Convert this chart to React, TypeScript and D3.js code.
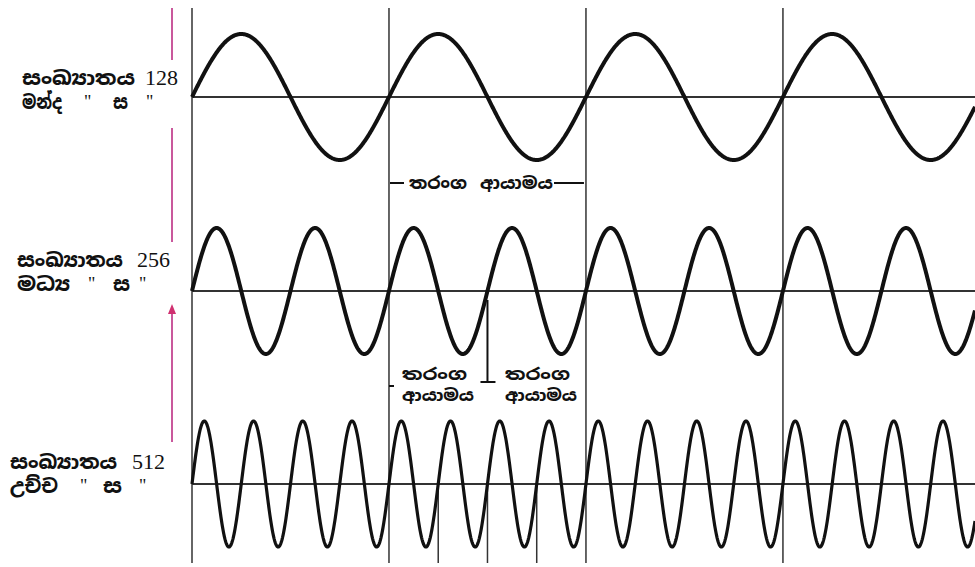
import React from "react";
import * as d3 from "d3";

// ---- data ----
const frequencies = [128, 256, 512];
const freqWord = "සංඛ්‍යාතය";
const pitchNames = ["මන්ද", "මධ්‍ය", "උච්ච"];
const swaraName = "ස";
const wavelengthWord1 = "තරංග";
const wavelengthWord2 = "ආයාමය";
const periodsShown = 3.975; // periods of the lowest frequency visible

// ---- layout ----
const W = 975;
const H = 567;
const x0 = 192;
const x1 = 975;
const panelZero = [97, 291, 484];
const amp = 63;
const lineTop = 8;
const lineBottom = 563;
const sinhalaFont = "'Noto Sans Sinhala', 'Noto Serif Sinhala', 'Noto Sans', sans-serif";
const numFont = "'Liberation Serif', 'DejaVu Serif', serif";

type Block = {
  x: number; y1: number; y2: number; wordW: number; numX: number;
  pitchW: number; q1: number; sx: number; sw: number; q2: number;
};

const labelBlocks: Block[] = [
  { x: 22, y1: 85, y2: 109, wordW: 113, numX: 145, pitchW: 40, q1: 84, sx: 113, sw: 15, q2: 146 },
  { x: 17, y1: 267, y2: 291, wordW: 106, numX: 137, pitchW: 53, q1: 88, sx: 113, sw: 17, q2: 139 },
  { x: 10, y1: 469, y2: 493, wordW: 107, numX: 132, pitchW: 48, q1: 80, sx: 103, sw: 19, q2: 139 },
];

export default function App() {
  const baseF = frequencies[0];
  const tMax = periodsShown / baseF;
  const x = d3.scaleLinear().domain([0, tMax]).range([x0, x1]);
  const samples = d3.range(0, 1601).map((i) => (i / 1600) * tMax);

  const waves = frequencies.map((f, i) => {
    const y = d3.scaleLinear().domain([-1, 1]).range([panelZero[i] + amp, panelZero[i] - amp]);
    const line = d3
      .line<number>()
      .x((t) => x(t))
      .y((t) => y(Math.sin(2 * Math.PI * f * t)));
    return line(samples) || "";
  });

  const majorT = d3.range(1, Math.floor(periodsShown) + 1).map((k) => k / baseF);
  const hiF = frequencies[2];
  const minorT = [5, 6, 7].map((k) => k / hiF);
  const midF = frequencies[1];
  const bracketT = 3 / midF;

  const axisColor = "#333";
  const pink = "#c9589c";

  const bold = { fontFamily: sinhalaFont, fontWeight: 800 as const };

  return (
    <svg
      width={W}
      height={H}
      style={{ position: "absolute", left: 0, top: 0, background: "#fff" }}
    >
      <rect x={0} y={0} width={W} height={H} fill="#fff" />
      {/* pink side markers */}
      <g stroke={pink} strokeWidth={2}>
        <line x1={172} x2={172} y1={lineTop} y2={60} />
        <line x1={172} x2={172} y1={128} y2={242} />
        <line x1={172} x2={172} y1={312} y2={442} />
      </g>
      <path d="M168,314 L172,304 L176,314 Z" fill="#d03070" />

      {/* vertical lines */}
      <g stroke={axisColor} strokeWidth={1.5}>
        <line x1={x0} x2={x0} y1={lineTop} y2={lineBottom} />
        {majorT.map((t) => (
          <line key={t} x1={x(t)} x2={x(t)} y1={lineTop} y2={lineBottom} />
        ))}
        {minorT.map((t) => (
          <line key={t} x1={x(t)} x2={x(t)} y1={panelZero[2]} y2={lineBottom} />
        ))}
      </g>

      {/* horizontal zero lines */}
      <g stroke={axisColor} strokeWidth={2}>
        {panelZero.map((yz) => (
          <line key={yz} x1={x0} x2={x1} y1={yz} y2={yz} />
        ))}
      </g>

      {/* waves */}
      {waves.map((d, i) => (
        <path
          key={i}
          d={d}
          fill="none"
          stroke="#111"
          strokeWidth={i === 2 ? 3.2 : 4}
          strokeLinejoin="round"
        />
      ))}

      {/* wavelength label (top) */}
      <g stroke="#111" strokeWidth={2}>
        <line x1={x(majorT[0]) + 1} x2={404} y1={183} y2={183} />
        <line x1={554} x2={x(majorT[1]) - 2} y1={183} y2={183} />
      </g>
      <text x={409} y={189} {...bold} fontSize={17} fill="#111" textLength={58} lengthAdjust="spacingAndGlyphs">
        {wavelengthWord1}
      </text>
      <text x={480} y={189} {...bold} fontSize={17} fill="#111" textLength={73} lengthAdjust="spacingAndGlyphs">
        {wavelengthWord2}
      </text>

      {/* wavelength labels (middle) */}
      <g stroke="#111" strokeWidth={2}>
        <line x1={x(bracketT)} x2={x(bracketT)} y1={300} y2={382} />
        <line x1={x(bracketT) - 7} x2={x(bracketT) + 8} y1={382} y2={382} />
        <line x1={x(majorT[0])} x2={x(majorT[0]) + 5} y1={386} y2={386} />
      </g>
      {[402, 505].map((tx) => (
        <g key={tx}>
          <text x={tx} y={380} {...bold} fontSize={16} fill="#111" textLength={65} lengthAdjust="spacingAndGlyphs">
            {wavelengthWord1}
          </text>
          <text x={tx} y={401} {...bold} fontSize={16} fill="#111" textLength={72} lengthAdjust="spacingAndGlyphs">
            {wavelengthWord2}
          </text>
        </g>
      ))}

      {/* left labels */}
      {frequencies.map((f, i) => {
        const b = labelBlocks[i];
        return (
          <g key={f} fill="#111">
            <text x={b.x} y={b.y1} {...bold} fontSize={19} textLength={b.wordW} lengthAdjust="spacingAndGlyphs">
              {freqWord}
            </text>
            <text x={b.numX} y={b.y1} fontFamily={numFont} fontSize={22}>
              {f}
            </text>
            <text x={b.x} y={b.y2} {...bold} fontSize={19} textLength={b.pitchW} lengthAdjust="spacingAndGlyphs">
              {pitchNames[i]}
            </text>
            <text x={b.q1} y={b.y2 - 1} fontFamily={numFont} fontSize={18}>"</text>
            <text x={b.sx} y={b.y2} {...bold} fontSize={19} textLength={b.sw} lengthAdjust="spacingAndGlyphs">
              {swaraName}
            </text>
            <text x={b.q2} y={b.y2 - 1} fontFamily={numFont} fontSize={18}>"</text>
          </g>
        );
      })}
    </svg>
  );
}
